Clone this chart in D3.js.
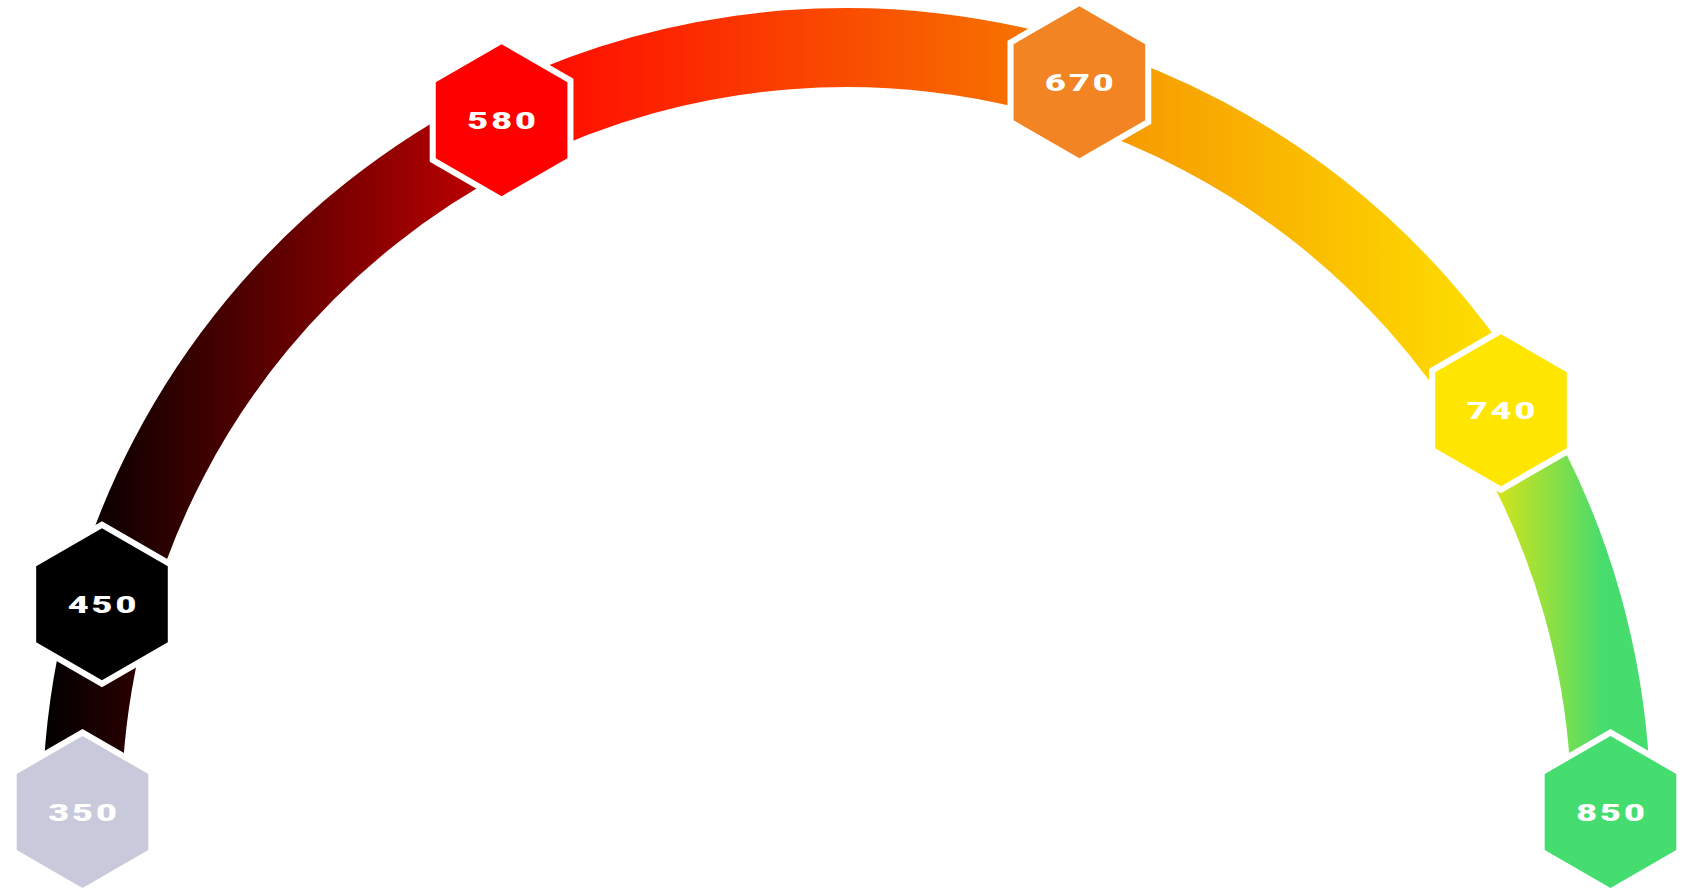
<!DOCTYPE html>
<html>
<head>
<meta charset="utf-8">
<script src="https://cdn.jsdelivr.net/npm/d3@7"></script>
<style>
  html, body { margin: 0; padding: 0; background: #ffffff; }
  svg { display: block; }
  .score-label {
    font-family: Roboto, "Liberation Sans", sans-serif;
    font-weight: 900;
    font-size: 24px;
    letter-spacing: 2px;
    fill: #ffffff;
  }
</style>
</head>
<body>
<svg id="chart"></svg>
<script>
// score markers along the gauge
const scores = [350, 450, 580, 670, 740, 850]
const scoreLabels = ["350", "450", "580", "670", "740", "850"]

// hexagon fills, one per score
const hexColors = ["#c9c9dc", "#000000", "#ff0000", "#f38423", "#ffe600", "#45dd6f"]

// gradient for each arc piece between two markers: [start, end]
const segmentColors = [
  ["#000000", "#300000"],
  ["#000000", "#d00000"],
  ["#ff0000", "#f68000"],
  ["#f59000", "#ffe600"],
  ["#ffe600", "#46dc6e"]
]
const segmentEndOffsets = [1, 1, 1, 1, 0.75]

const width = 1693,
      height = 894

const dims = {
  cx: width / 2,
  cy: 812,
  innerR: 725,
  outerR: 804,
  hexR: 76,
  hexGap: 7
}

// score -> angle on the half circle (not evenly spaced in the picture)
const angle = d3.scaleLinear()
  .domain(scores)
  .range([-90, -74.4, -26.5, 17.7, 58.45, 90].map(d => d * Math.PI / 180))

// markers sit a little off the arc centre line
const radius = d3.scaleLinear()
  .domain(scores)
  .range([764, 773, 773, 766, 768, 764])

const svg = d3.select("#chart")
  .attr("width", width)
  .attr("height", height)

const defs = svg.append("defs")

const g = svg.append("g")
  .attr("transform", `translate(${dims.cx}, ${dims.cy})`)

// Segments between neighbouring scores
const segments = d3.pairs(scores).map((p, i) => ({ from: p[0], to: p[1], i }))

segments.forEach(s => {
  const grad = defs.append("linearGradient")
    .attr("id", `seg-grad-${s.i}`)
    .attr("x1", "0%").attr("x2", "100%")
    .attr("y1", "0%").attr("y2", "0%")
  grad.append("stop").attr("offset", 0).attr("stop-color", segmentColors[s.i][0])
  grad.append("stop").attr("offset", segmentEndOffsets[s.i]).attr("stop-color", segmentColors[s.i][1])
})

const arc = d3.arc()
  .innerRadius(dims.innerR)
  .outerRadius(dims.outerR)
  .startAngle(d => angle(d.from))
  .endAngle(d => angle(d.to))

g.append("g")
  .selectAll("path")
  .data(segments)
  .enter().append("path")
  .attr("d", arc)
  .attr("fill", d => `url(#seg-grad-${d.i})`)

// Hexagon helper (pointy top)
const hexPath = r => d3.line().curve(d3.curveLinearClosed)(
  d3.range(6).map(k => {
    const a = k * Math.PI / 3
    return [r * Math.sin(a), -r * Math.cos(a)]
  })
)

const pos = v => [
  radius(v) * Math.sin(angle(v)),
  -radius(v) * Math.cos(angle(v))
]

const markers = g.append("g")
  .selectAll("g")
  .data(scores)
  .enter().append("g")
  .attr("transform", d => `translate(${pos(d)[0]}, ${pos(d)[1]})`)

// white border cut out of the arc
markers.append("path")
  .attr("d", hexPath(dims.hexR + dims.hexGap))
  .attr("fill", "#ffffff")

markers.append("path")
  .attr("d", hexPath(dims.hexR))
  .attr("fill", (d, i) => hexColors[i])

markers.append("text")
  .attr("class", "score-label")
  .text((d, i) => scoreLabels[i])
  .attr("transform", "translate(1.5, 8.5) scale(1.5, 1)")
  .attr("text-anchor", "middle")
</script>
</body>
</html>
